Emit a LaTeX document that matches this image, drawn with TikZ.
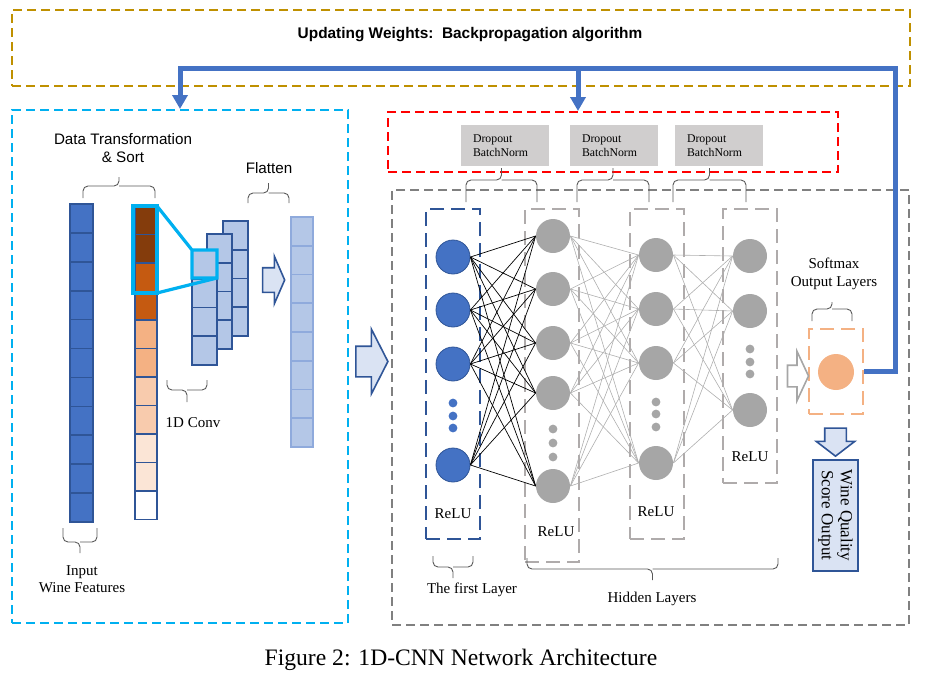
\documentclass[tikz,border=0pt]{standalone}
\usepackage{fontspec}
\setmainfont{Liberation Serif}
\newfontfamily\arialfont{Liberation Sans}
\usepackage{tikz}
\usetikzlibrary{arrows.meta,shapes.arrows}
\tikzset{>/.tip={Triangle[length=7pt,width=7.5pt]}}

\definecolor{gold}{RGB}{191,144,0}
\definecolor{fbblue}{RGB}{68,114,196}
\definecolor{cyanline}{RGB}{0,176,240}
\definecolor{darkblue}{RGB}{47,85,151}
\definecolor{boxgray}{RGB}{128,128,128}
\definecolor{layergray}{RGB}{175,171,171}
\definecolor{nodegray}{RGB}{166,166,166}
\definecolor{lightblue}{RGB}{180,199,231}
\definecolor{paleblue}{RGB}{218,227,243}
\definecolor{flatborder}{RGB}{143,170,220}
\definecolor{peach}{RGB}{244,177,131}
\definecolor{dropgray}{RGB}{208,206,206}
\definecolor{brownA}{RGB}{132,60,12}
\definecolor{brownB}{RGB}{197,90,17}
\definecolor{peachB}{RGB}{248,203,173}
\definecolor{peachC}{RGB}{251,229,214}

% bracket: x1, x2, y of the ends, y of the bar, y of the tip
\newcommand{\bkt}[5]{%
  \draw[brc] (#1,#3) -- (#1,#4) -- ({(#1+#2)/2},#4) -- ({(#1+#2)/2},#5);
  \draw[brc] (#2,#3) -- (#2,#4) -- ({(#1+#2)/2},#4);}

\begin{document}
\begin{tikzpicture}[x=0.5pt,y=-0.5pt,
  lbl/.style={font=\fontsize{7.5}{8.8}\selectfont,align=center,inner sep=0pt},
  sans/.style={font=\arialfont\fontsize{7.6}{9.4}\selectfont,align=center,inner sep=0pt},
  brc/.style={draw=black!65,line width=0.45pt,rounded corners=2.5pt},
  neuron/.style={circle,minimum size=17pt,inner sep=0pt},
  firstn/.style={neuron,fill=fbblue,draw=darkblue,line width=0.4pt},
  hidn/.style={neuron,fill=nodegray},
  smalldot/.style={circle,minimum size=4.4pt,inner sep=0pt,fill=#1},
  layerbox/.style={draw=#1,dash pattern=on 7pt off 3.5pt,line width=1.1pt,minimum width=27pt,inner sep=0pt},
  bigbox/.style={draw=#1,dash pattern=on 4.5pt off 2.5pt,line width=1pt,inner sep=0pt},
  dropbox/.style={fill=dropgray,minimum width=44pt,minimum height=20.5pt,text width=32pt,align=left,
    font=\fontsize{5.9}{7}\selectfont,inner sep=0pt},
  hollow/.style={single arrow,draw=#1,line width=0.8pt,inner xsep=0pt},
  cell/.style={draw=darkblue,line width=0.8pt},
  fb/.style={draw=fbblue,line width=2.5pt},
  w1/.style={draw=black,line width=0.35pt},
  w2/.style={draw=nodegray!90,line width=0.3pt}]
\useasboundingbox (0,0) rectangle (928,677);

% frames
\node[bigbox=gold,minimum width=449pt,minimum height=38pt] (upd) at (461,48) {};
\node[font=\arialfont\bfseries\fontsize{7.7}{9}\selectfont] (upd-txt) at (470,35) {Updating Weights:\ \ Backpropagation algorithm};
\node[bigbox=cyanline,minimum width=168pt,minimum height=256.5pt] (prep) at (180,366.5) {};
\node[bigbox=red,minimum width=225pt,minimum height=30pt] (drop) at (613,142) {};
\node[bigbox=boxgray,minimum width=258.5pt,minimum height=217.5pt] (net) at (650.5,407.5) {};

% input and sorted columns
\foreach \i in {0,...,10}
  \filldraw[cell,fill=fbblue] (70,{204+\i*28.9}) rectangle ++(23,28.9);
\foreach \c [count=\i from 0] in {brownA,brownA,brownB,brownB,peach,peach,peachB,peachB,peachC,peachC,white}
  \filldraw[cell,fill=\c] (135,{206+\i*28.5}) rectangle ++(22,28.5);

% feature maps
\foreach \x/\y in {223/221,207/234,192/250}
  \foreach \i in {0,...,3}
    \filldraw[cell,fill=lightblue] (\x,{\y+\i*28.7}) rectangle ++(25,28.7);
\draw[draw=cyanline,line width=1.6pt] (133,206) rectangle (157,293);
\draw[draw=cyanline,line width=1.6pt] (157,206) -- (192,250) rectangle (217,278) -- (157,293);

% flatten column
\foreach \i in {0,...,7}
  \filldraw[draw=flatborder,line width=0.8pt,fill=lightblue] (291,{217+\i*28.75}) rectangle ++(22,28.75);

\node[hollow=darkblue,fill=paleblue,minimum height=11pt,inner ysep=5.75pt,
  single arrow head extend=5.75pt,single arrow tip angle=133] (ar-flat) at (271,280) {};
\node[hollow=darkblue,fill=paleblue,minimum height=16pt,inner ysep=7.25pt,
  single arrow head extend=8.5pt,single arrow tip angle=126] (ar-net) at (368,361.5) {};

\node[sans] (t-sort) at (123,148) {Data Transformation\\\& Sort};
\node[sans] (t-flat) at (269,168) {Flatten};
\node[lbl] (t-conv) at (193,423) {1D Conv};
\node[lbl] (t-in) at (82,579) {Input\\Wine Features};
\bkt{83}{155}{198}{186}{177}
\bkt{248}{289}{203}{193}{183}
\bkt{167}{207}{380}{390}{402}
\bkt{63}{97}{528}{542}{553}

% dropout / batchnorm
\node[dropbox] (db1) at (505,145.5) {Dropout\\BatchNorm};
\node[dropbox] (db2) at (614,145.5) {Dropout\\BatchNorm};
\node[dropbox] (db3) at (719,145.5) {Dropout\\BatchNorm};
\bkt{466}{537}{202}{180}{168}
\bkt{577}{649}{202}{180}{168}
\bkt{673}{746}{202}{180}{168}

% layers
\node[layerbox=darkblue,minimum height=165pt] (box1) at (453,374) {};
\node[layerbox=layergray,minimum height=176.5pt] (box2) at (552,385.5) {};
\node[layerbox=layergray,minimum height=165pt] (box3) at (657,374) {};
\node[layerbox=layergray,minimum height=137pt] (box4) at (750,346) {};
\node[layerbox=peach,minimum height=42.5pt] (softbox) at (836,371.5) {};

\foreach \y [count=\i] in {257,310,364,465} \node[firstn] (a\i) at (453,\y) {};
\foreach \y [count=\i] in {236,289,343,393,486} \node[hidn] (b\i) at (553,\y) {};
\foreach \y [count=\i] in {255,309,363,463} \node[hidn] (c\i) at (656,\y) {};
\foreach \y [count=\i] in {256,311,410} \node[hidn] (d\i) at (750,\y) {};
\node[neuron,fill=peach,minimum size=18pt] (out) at (836,372) {};

\foreach \y in {403,416,428} \node[smalldot=fbblue] (da\y) at (453,\y) {};
\foreach \y in {429,443,457} \node[smalldot=nodegray] (db\y) at (553,\y) {};
\foreach \y in {402,414,427} \node[smalldot=nodegray] (dc\y) at (656,\y) {};
\foreach \y in {349,362,374} \node[smalldot=nodegray] (dd\y) at (750,\y) {};

\foreach \i in {1,...,4} \foreach \j in {1,...,5} \draw[w1] (a\i.east) -- (b\j.west);
\foreach \i in {1,...,5} \foreach \j in {1,...,4} \draw[w2] (b\i.east) -- (c\j.west);
\foreach \i in {1,...,4} \foreach \j in {1,...,3} \draw[w2] (c\i.east) -- (d\j.west);

\node[lbl] (r1) at (453,514) {ReLU};
\node[lbl] (r2) at (556,532) {ReLU};
\node[lbl] (r3) at (656,512) {ReLU};
\node[lbl] (r4) at (750,457) {ReLU};
\node[lbl] (t-first) at (472,590) {The first Layer};
\node[lbl] (t-hid) at (652,599) {Hidden Layers};
\node[lbl] (t-soft) at (834,274) {Softmax\\Output Layers};
\bkt{433}{473}{556}{567}{578}
\bkt{527}{778}{558}{569}{580}
\bkt{812}{852}{321}{309}{302}

% output
\node[hollow=nodegray,fill=white,minimum height=10.5pt,inner ysep=5pt,
  single arrow head extend=7pt,single arrow tip angle=130] (ar-soft) at (795.5,376) {};
\node[hollow=darkblue,fill=paleblue,minimum height=14pt,inner xsep=5pt,inner ysep=0pt,
  single arrow head extend=4.25pt,single arrow tip angle=105,shape border rotate=270] (ar-out) at (835.5,438) {};
\node[draw=darkblue,fill=paleblue,line width=0.8pt,rotate=-90,minimum width=55.5pt,minimum height=22.5pt,
  align=center,inner sep=0pt,font=\fontsize{8.5}{9.5}\selectfont] (score) at (835.5,515.5) {Wine Quality\\Score Output};

% backpropagation feedback
\coordinate (fbR) at (895,68);
\coordinate (fbL) at (180,68);
\coordinate (fbM) at (578,68);
\draw[fb,->] (softbox.east) -| (fbR) -- (fbL) -- (fbL |- prep.north);
\draw[fb,->] (fbM) -- (fbM |- drop.north);

\node[font=\fontsize{11.8}{14}\selectfont] (caption) at (461,660) {Figure 2: 1D-CNN Network Architecture};
\end{tikzpicture}
\end{document}
